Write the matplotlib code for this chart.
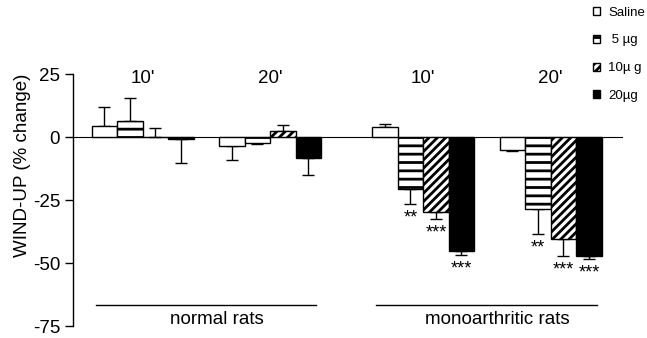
import numpy as np
import matplotlib
matplotlib.use("Agg")
import matplotlib.pyplot as plt

plt.rcParams['font.family'] = ['Liberation Sans', 'DejaVu Sans']
plt.rcParams['hatch.linewidth'] = 2.0
plt.rcParams['axes.unicode_minus'] = False

# groups: normal 10', normal 20', mono 10', mono 20'
groups = ["10'", "20'", "10'", "20'"]
doses = ["Saline", " 5 \u00b5g", "10\u00b5 g", "20\u00b5g"]
saline = [4.4, -3.6, 4.0, -5.0]
ug5 = [6.2, -2.2, -20.6, -28.7]
ug10 = [0.0, 2.4, -29.9, -40.5]
ug20 = [-0.8, -8.5, -45.2, -47.2]
# error bar end points
saline_err = [11.9, -9.0, 5.3, -5.7]
ug5_err = [15.6, -2.9, -26.7, -38.4]
ug10_err = [3.4, 4.8, -32.6, -47.3]
ug20_err = [-10.2, -15.0, -46.8, -48.3]
# significance
ug5_sig = ["", "", "**", "**"]
ug10_sig = ["", "", "***", "***"]
ug20_sig = ["", "", "***", "***"]
conditions = ["normal rats", "monoarthritic rats"]

group_start = np.array([0, 5, 11, 16])

fig = plt.figure(figsize=(6.47, 3.38), dpi=100)
ax = fig.add_axes([0.1124, 0.0355, 0.849, 0.7455])

styles = [
    dict(color="white", hatch=None),
    dict(color="white", hatch="--"),
    dict(color="white", hatch="////"),
    dict(color="black", hatch=None),
]
series = [(saline, saline_err, None), (ug5, ug5_err, ug5_sig),
          (ug10, ug10_err, ug10_sig), (ug20, ug20_err, ug20_sig)]

handles = []
for i, ((vals, errs, sig), st) in enumerate(zip(series, styles)):
    x = group_start + i
    vals = np.array(vals)
    errs = np.array(errs)
    b = ax.bar(x, vals, width=1.0, align="edge", color=st["color"],
               edgecolor="black", linewidth=1.0, hatch=st["hatch"], zorder=3)
    handles.append(b)
    up = np.where(errs > vals, errs - vals, 0)
    dn = np.where(errs < vals, vals - errs, 0)
    ax.errorbar(x + 0.5, vals, yerr=[dn, up], fmt="none", ecolor="black",
                elinewidth=1.0, capsize=4, capthick=1.0, zorder=2)
    if sig is not None:
        for xi, e, s in zip(x, errs, sig):
            if s:
                ax.text(xi + 0.5, e - 2.2, s, ha="center", va="top",
                        fontsize=13)

for g, name in zip(group_start, groups):
    ax.text(g + 2, 23.4, name, ha="center", va="center", fontsize=13.5)

for c0, name in zip([0, 11], conditions):
    ax.plot([c0 + 0.16, c0 + 8.8], [-66.7, -66.7], color="black", lw=1.0,
            clip_on=False)
    ax.text(c0 + 4.9, -72.6, name, ha="center", va="center", fontsize=13.5)

ax.set_xlim(-0.745, 20.8)
ax.set_ylim(-75, 25)
ax.set_yticks([25, 0, -25, -50, -75])
ax.set_xticks([])
ax.spines["top"].set_visible(False)
ax.spines["right"].set_visible(False)
ax.spines["bottom"].set_position(("data", 0))
ax.spines["bottom"].set_linewidth(0.8)
ax.spines["left"].set_linewidth(1.0)
ax.tick_params(axis="y", direction="out", length=5.5, width=1.0, pad=3.5,
               labelsize=13.5)
ax.set_ylabel("WIND-UP (% change)", fontsize=13.5)
ax.yaxis.set_label_coords(-0.076, 0.637)

fig.legend(handles, doses, loc="upper left", bbox_to_anchor=(0.906, 1.0),
           frameon=False, fontsize=9.5, handlelength=0.55, handleheight=0.55,
           handletextpad=0.6, labelspacing=1.2, borderpad=0)

fig.savefig("out.png", dpi=100)
